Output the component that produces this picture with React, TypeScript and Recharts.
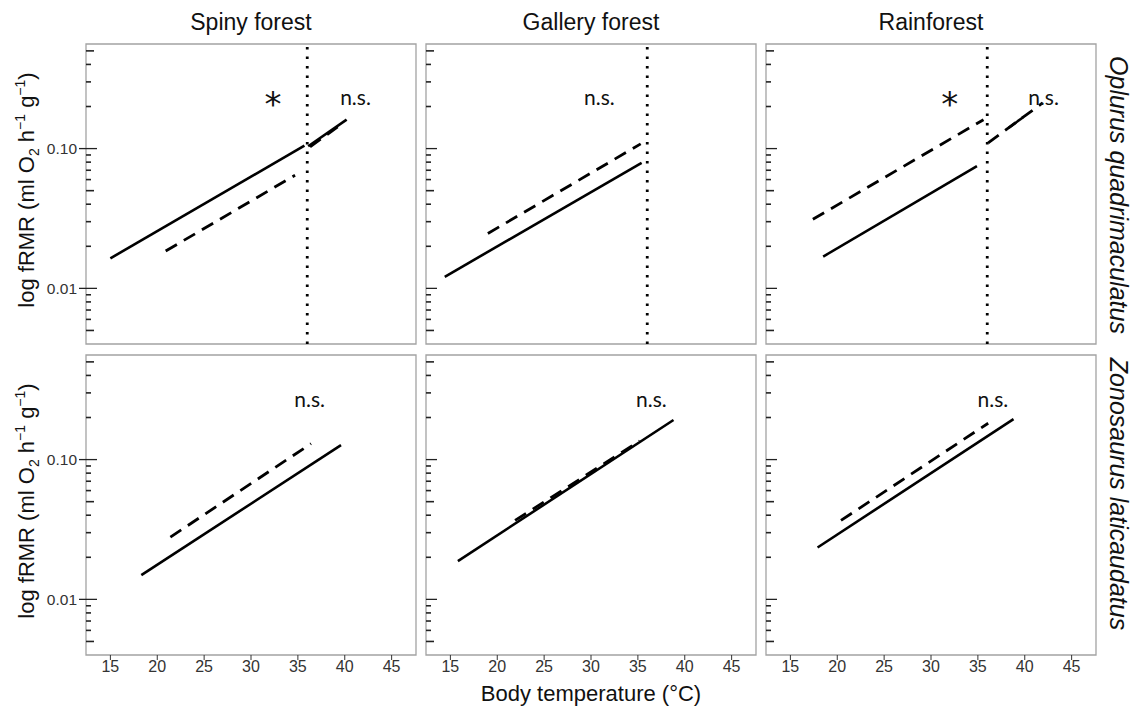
import React from "react"
import {
  LineChart,
  Line,
  XAxis,
  YAxis,
  ReferenceLine,
  ReferenceArea,
  ReferenceDot,
} from "recharts"

const habitats = ["Spiny forest", "Gallery forest", "Rainforest"]
const species = ["Oplurus quadrimaculatus", "Zonosaurus laticaudatus"]
const xTicks = [15, 20, 25, 30, 35, 40, 45]
const yTicks = [
  0.005, 0.006, 0.007, 0.008, 0.009, 0.01, 0.02, 0.03, 0.04, 0.05, 0.06, 0.07,
  0.08, 0.09, 0.1, 0.2, 0.3, 0.4, 0.5,
]
const xDomain = [12.4, 47.6]
const yDomain = [0.004, 0.56]
const thresholdTemp = 36

// Oplurus quadrimaculatus (top row)
const opSpinySolid = [{ t: 15.0, r: 0.0164 }, { t: 35.7, r: 0.105 }]
const opSpinySolidHot = [{ t: 36.1, r: 0.104 }, { t: 40.2, r: 0.161 }]
const opSpinyDashed = [{ t: 20.9, r: 0.0185 }, { t: 34.7, r: 0.0645 }]
const opSpinyDashedHot = [{ t: 36.3, r: 0.103 }, { t: 39.8, r: 0.152 }]
const opSpinyNotes = [{ t: 32.35, r: 0.236, text: "*" }, { t: 41.15, r: 0.236, text: "n.s." }]

const opGallerySolid = [{ t: 14.4, r: 0.0121 }, { t: 35.4, r: 0.0791 }]
const opGalleryDashed = [{ t: 19.0, r: 0.0247 }, { t: 35.3, r: 0.108 }]
const opGalleryNotes = [{ t: 30.9, r: 0.236, text: "n.s." }]

const opRainSolid = [{ t: 18.5, r: 0.0169 }, { t: 34.9, r: 0.0748 }]
const opRainSolidHot = [{ t: 38.3, r: 0.141 }, { t: 39.8, r: 0.167 }]
const opRainDashed = [{ t: 17.4, r: 0.0312 }, { t: 35.6, r: 0.161 }]
const opRainDashedHot = [{ t: 36.1, r: 0.11 }, { t: 41.9, r: 0.212 }]
const opRainNotes = [{ t: 32.0, r: 0.236, text: "*" }, { t: 42.0, r: 0.236, text: "n.s." }]

// Zonosaurus laticaudatus (bottom row)
const zlSpinySolid = [{ t: 18.3, r: 0.0149 }, { t: 39.6, r: 0.127 }]
const zlSpinyDashed = [{ t: 21.4, r: 0.0279 }, { t: 36.4, r: 0.13 }]
const zlSpinyNotes = [{ t: 36.25, r: 0.272, text: "n.s." }]

const zlGallerySolid = [{ t: 15.8, r: 0.0188 }, { t: 38.8, r: 0.192 }]
const zlGalleryDashed = [{ t: 21.9, r: 0.0367 }, { t: 35.2, r: 0.136 }]
const zlGalleryNotes = [{ t: 36.45, r: 0.272, text: "n.s." }]

const zlRainSolid = [{ t: 17.9, r: 0.0235 }, { t: 38.8, r: 0.195 }]
const zlRainDashed = [{ t: 20.4, r: 0.0367 }, { t: 36.1, r: 0.182 }]
const zlRainNotes = [{ t: 36.6, r: 0.272, text: "n.s." }]

const panels = [
  { row: 0, col: 0, solid: [opSpinySolid, opSpinySolidHot], dashed: [opSpinyDashed, opSpinyDashedHot], notes: opSpinyNotes, threshold: true },
  { row: 0, col: 1, solid: [opGallerySolid], dashed: [opGalleryDashed], notes: opGalleryNotes, threshold: true },
  { row: 0, col: 2, solid: [opRainSolid, opRainSolidHot], dashed: [opRainDashed, opRainDashedHot], notes: opRainNotes, threshold: true },
  { row: 1, col: 0, solid: [zlSpinySolid], dashed: [zlSpinyDashed], notes: zlSpinyNotes, threshold: false },
  { row: 1, col: 1, solid: [zlGallerySolid], dashed: [zlGalleryDashed], notes: zlGalleryNotes, threshold: false },
  { row: 1, col: 2, solid: [zlRainSolid], dashed: [zlRainDashed], notes: zlRainNotes, threshold: false },
]

const FONT = "'Liberation Sans', Arial, sans-serif"
const NOTE_FONT = "Lato, 'Open Sans', sans-serif"
const PLOT_W = 330
const PLOT_H = 300
const Y_W = 60
const colLeft = [86, 426, 766]
const rowTop = [44, 355]
const rowLabelCenter = [195, 494]

function LogTick(props: any) {
  const { x, y, payload, showLabel } = props
  const v = payload.value
  const major = v === 0.01 || v === 0.1
  const mid = v === 0.005 || v === 0.05 || v === 0.5
  const len = major ? 11 : mid ? 8 : 5
  return (
    <g>
      <line
        x1={major && showLabel ? x - 7 : x}
        x2={x + len}
        y1={y}
        y2={y}
        stroke="#222"
        strokeWidth={major ? 1.3 : 1.6}
      />
      {showLabel && major && (
        <text
          x={x - 9}
          y={y}
          textAnchor="end"
          dominantBaseline="central"
          fontSize={15.5}
          fill="#333"
        >
          {v === 0.1 ? "0.10" : "0.01"}
        </text>
      )}
    </g>
  )
}

function TempTick(props: any) {
  const { x, y, payload } = props
  return (
    <text x={x} y={y + 12} textAnchor="middle" fontSize={16} fill="#333">
      {payload.value}
    </text>
  )
}

function Note(props: any) {
  const { cx, cy, text } = props
  if (text === "*") {
    return (
      <text
        x={cx}
        y={cy + 20}
        textAnchor="middle"
        fontFamily="'DejaVu Sans', sans-serif"
        fontSize={34}
        fill="#111"
      >
        *
      </text>
    )
  }
  return (
    <text
      x={cx}
      y={cy}
      textAnchor="middle"
      dominantBaseline="central"
      fontFamily={NOTE_FONT}
      fontSize={21}
      fill="#111"
    >
      {text}
    </text>
  )
}

function Panel({ row, col, solid, dashed, notes, threshold }: any) {
  const bottom = row === 1
  const left = colLeft[col] - Y_W
  const top = rowTop[row] - 2
  return (
    <div style={{ position: "absolute", left, top }}>
      <LineChart
        width={Y_W + PLOT_W + 2}
        height={2 + PLOT_H + (bottom ? 30 : 2)}
        margin={{ top: 2, right: 2, left: 0, bottom: bottom ? 0 : 2 }}
      >
        <XAxis
          type="number"
          dataKey="t"
          domain={xDomain}
          allowDataOverflow
          ticks={xTicks}
          interval={0}
          hide={!bottom}
          height={30}
          axisLine={false}
          tickSize={5}
          tickMargin={0}
          tickLine={{ stroke: "#333" }}
          tick={(p: any) => <TempTick {...p} />}
        />
        <YAxis
          type="number"
          dataKey="r"
          scale="log"
          domain={yDomain}
          allowDataOverflow
          ticks={yTicks}
          interval={0}
          width={Y_W}
          axisLine={false}
          tickLine={false}
          tickSize={0}
          tickMargin={0}
          tick={(p: any) => <LogTick {...p} showLabel={col === 0} />}
        />
        <ReferenceArea
          x1={xDomain[0]}
          x2={xDomain[1]}
          y1={yDomain[0]}
          y2={yDomain[1]}
          fill="none"
          stroke="#a3a3a3"
          strokeWidth={1.3}
        />
        {threshold && (
          <ReferenceLine
            x={thresholdTemp}
            stroke="#000"
            strokeWidth={2.8}
            strokeDasharray="2.6 6.9"
          />
        )}
        {dashed.map((d: any, i: number) => (
          <Line
            key={"d" + i}
            data={d}
            dataKey="r"
            stroke="#000"
            strokeWidth={2.8}
            strokeDasharray="13 8"
            dot={false}
            isAnimationActive={false}
          />
        ))}
        {solid.map((d: any, i: number) => (
          <Line
            key={"s" + i}
            data={d}
            dataKey="r"
            stroke="#000"
            strokeWidth={2.6}
            dot={false}
            isAnimationActive={false}
          />
        ))}
        {notes.map((n: any, i: number) => (
          <ReferenceDot
            key={"n" + i}
            x={n.t}
            y={n.r}
            r={0}
            shape={(p: any) => <Note {...p} text={n.text} />}
          />
        ))}
      </LineChart>
    </div>
  )
}

function YLabel({ cy }: { cy: number }) {
  const x = 34
  return (
    <text
      x={x}
      y={cy}
      transform={`rotate(-90, ${x}, ${cy})`}
      textAnchor="middle"
      fontSize={22}
      fill="#111"
    >
      log fRMR (ml O
      <tspan dy={5} fontSize={14}>2</tspan>
      <tspan dy={-5}> h</tspan>
      <tspan dy={-9} fontSize={14}>−1</tspan>
      <tspan dy={9}> g</tspan>
      <tspan dy={-9} fontSize={14}>−1</tspan>
      <tspan dy={9}>)</tspan>
    </text>
  )
}

export default function App() {
  return (
    <div
      style={{
        position: "absolute",
        left: 0,
        top: 0,
        width: 1134,
        height: 706,
        background: "#fff",
        fontFamily: FONT,
      }}
    >
      {panels.map((p, i) => (
        <Panel key={i} {...p} />
      ))}
      <svg
        width={1134}
        height={706}
        style={{ position: "absolute", left: 0, top: 0, pointerEvents: "none" }}
        fontFamily={FONT}
      >
        {habitats.map((h, i) => (
          <text
            key={h}
            x={colLeft[i] + PLOT_W / 2}
            y={30}
            textAnchor="middle"
            fontSize={23}
            fill="#111"
          >
            {h}
          </text>
        ))}
        {species.map((s, i) => {
          const cy = rowLabelCenter[i]
          return (
            <text
              key={s}
              x={1110}
              y={cy}
              transform={`rotate(90, 1110, ${cy})`}
              textAnchor="middle"
              fontSize={25}
              fontStyle="italic"
              fill="#111"
            >
              {s}
            </text>
          )
        })}
        {rowTop.map((t) => (
          <YLabel key={t} cy={t + PLOT_H / 2 - 4} />
        ))}
        <text x={591} y={701} textAnchor="middle" fontSize={22} fill="#111">
          Body temperature (°C)
        </text>
      </svg>
    </div>
  )
}
